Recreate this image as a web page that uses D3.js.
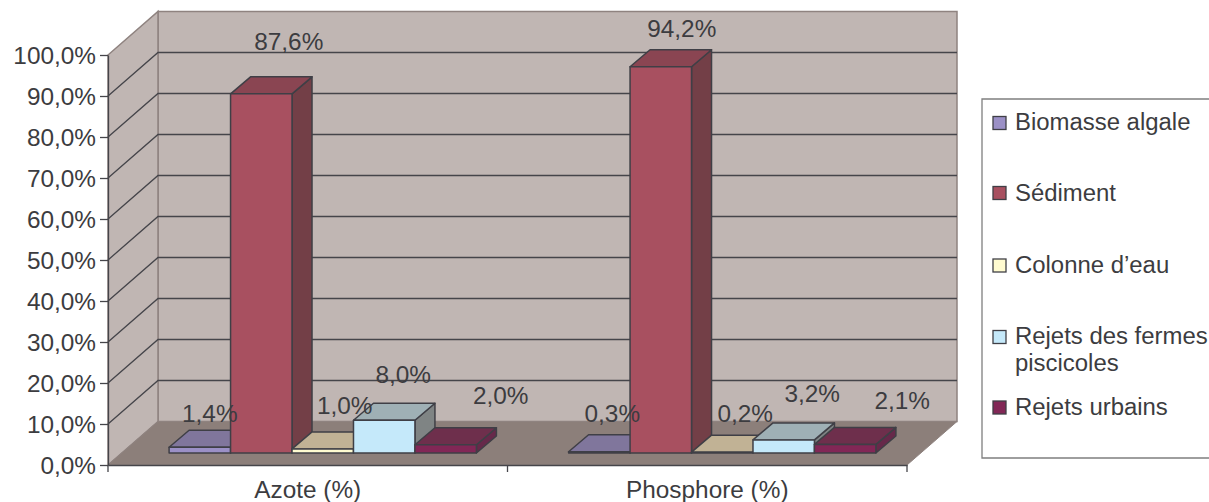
<!DOCTYPE html>
<html>
<head>
<meta charset="utf-8">
<script src="https://cdn.jsdelivr.net/npm/d3@7"></script>
<style>
  body { margin: 0; background: #fff; }
  svg { display: block; }
  text { font-family: "Liberation Sans", Arial, sans-serif; font-size: 23px; fill: #3c3c40; }
</style>
</head>
<body>
<div id="my_dataviz"></div>
<script>
// Values
const categories = ["Azote (%)", "Phosphore (%)"];
const seriesNames = ["Biomasse algale", "Sédiment", "Colonne d'eau", "Rejets des fermes", "Rejets urbains"];
const azote = [1.4, 87.6, 1.0, 8.0, 2.0];
const phosphore = [0.3, 94.2, 0.2, 3.2, 2.1];
const yTicks = [0, 10, 20, 30, 40, 50, 60, 70, 80, 90, 100];

// front / top / side colour per series
const frontColors = ["#9b90c6", "#a85060", "#fffbd0", "#c5e9fa", "#822756"];
const topColors = ["#80769c", "#8a4552", "#c1b295", "#9fb0b5", "#6e2f4c"];
const sideColors = ["#6b6285", "#733f47", "#a3967c", "#7f8484", "#66294a"];

// where excel left the data labels, relative to the top of each bar
const labelOffsets = [
  [[10, -25], [27.5, -44], [22, -35], [19, -37], [55, -41]],
  [[13, -30], [21, -30], [23, -30], [28.5, -38], [57, -35]]
];

const fmt = v => v.toFixed(1).replace(".", ",") + "%";
const stretch = 1.06; // the text in the reference is a bit wider than tall
const legendStretch = 1.04;

const width = 1209, height = 502;
const margin = {left: 108, right: 907, bottom: 465, top: 55};
const depth = {x: 50, y: -43.5};       // floor / side wall
const barShift = {x: 15, y: -12};      // bars sit inside the floor
const barDepth = {x: 20, y: -17};

const svg = d3.select("#my_dataviz")
  .append("svg")
    .attr("width", width)
    .attr("height", height);

const x0 = d3.scaleBand().domain(categories).range([margin.left, margin.right]);
const x1 = d3.scaleBand().domain(d3.range(seriesNames.length))
  .range([0, x0.bandwidth()])
  .paddingInner(0)
  .paddingOuter(0.75);
const y = d3.scaleLinear().domain([0, 100]).range([margin.bottom, margin.top]);

const poly = pts => pts.map(p => p.join(",")).join(" ");

// back wall
svg.append("polygon")
  .attr("points", poly([
    [margin.left + depth.x, y(100) + depth.y], [margin.right + depth.x, y(100) + depth.y],
    [margin.right + depth.x, y(0) + depth.y], [margin.left + depth.x, y(0) + depth.y]]))
  .attr("fill", "#c0b6b3").attr("stroke", "#8f8380").attr("stroke-width", 1.5);

// left wall
svg.append("polygon")
  .attr("points", poly([
    [margin.left, y(0)], [margin.left, y(100)],
    [margin.left + depth.x, y(100) + depth.y], [margin.left + depth.x, y(0) + depth.y]]))
  .attr("fill", "#c0b6b3").attr("stroke", "#8f8380").attr("stroke-width", 1.5);

// floor
svg.append("polygon")
  .attr("points", poly([
    [margin.left, y(0)], [margin.right, y(0)],
    [margin.right + depth.x, y(0) + depth.y], [margin.left + depth.x, y(0) + depth.y]]))
  .attr("fill", "#8c7f7a").attr("stroke", "#8f8380").attr("stroke-width", 1);

// gridlines, wall then back
const grid = svg.append("g").attr("fill", "none").attr("stroke", "#45454a").attr("stroke-width", 1.3);
yTicks.filter(d => d > 0 && d < 100).forEach(d => {
  grid.append("polyline").attr("points", poly([
    [margin.left, y(d)], [margin.left + depth.x, y(d) + depth.y], [margin.right + depth.x, y(d) + depth.y]]));
});

// bars, left to right so the later ones cover the earlier ones
const groups = [azote, phosphore];
const labels = [];
groups.forEach((values, g) => {
  values.forEach((v, i) => {
    const xa = x0(categories[g]) + x1(i) + barShift.x;
    const xb = xa + x1.bandwidth();
    const yb = y(0) + barShift.y;
    const yt = y(v) + barShift.y;
    const bar = svg.append("g")
      .attr("stroke", "#3f3f46").attr("stroke-width", 1.5).attr("stroke-linejoin", "round");
    bar.append("polygon")
      .attr("points", poly([[xb, yb], [xb, yt], [xb + barDepth.x, yt + barDepth.y], [xb + barDepth.x, yb + barDepth.y]]))
      .attr("fill", sideColors[i]);
    bar.append("polygon")
      .attr("points", poly([[xa, yt], [xb, yt], [xb + barDepth.x, yt + barDepth.y], [xa + barDepth.x, yt + barDepth.y]]))
      .attr("fill", topColors[i]);
    bar.append("rect")
      .attr("x", xa).attr("y", yt)
      .attr("width", xb - xa).attr("height", yb - yt)
      .attr("fill", frontColors[i]);
    labels.push({
      x: (xa + xb) / 2 + labelOffsets[g][i][0],
      y: yt + labelOffsets[g][i][1],
      text: fmt(v)
    });
  });
});

// data labels go over all the bars
svg.append("g").selectAll("text")
  .data(labels)
  .join("text")
    .attr("text-anchor", "middle")
    .attr("transform", d => `translate(${d.x},${d.y}) scale(${stretch},1)`)
    .text(d => d.text);

// Y axis
const yAxis = svg.append("g")
  .attr("transform", `translate(${margin.left},0)`)
  .call(d3.axisLeft(y).tickValues(yTicks).tickFormat(fmt).tickSize(8).tickSizeOuter(0));
yAxis.select(".domain").attr("stroke", "#45454a").attr("stroke-width", 1.3);
yAxis.selectAll(".tick line").attr("stroke", "#45454a").attr("stroke-width", 1.3);
yAxis.selectAll("text")
  .attr("x", -12 / stretch)
  .attr("dy", "0.36em")
  .attr("transform", `scale(${stretch},1)`)
  .style("font-size", "23px")
  .style("font-family", "Liberation Sans");

// X axis, labels in the middle of each band and ticks on the band edges
const xAxis = svg.append("g")
  .attr("transform", `translate(0,${margin.bottom})`)
  .call(d3.axisBottom(x0).tickSize(0));
xAxis.select(".domain").attr("stroke", "#45454a").attr("stroke-width", 1.5);
xAxis.selectAll("text")
  .attr("y", 33)
  .attr("dy", 0)
  .attr("transform", `scale(${stretch},1)`)
  .style("font-size", "23px")
  .style("font-family", "Liberation Sans");
const edges = [margin.left, margin.left + x0.bandwidth(), margin.right];
xAxis.selectAll(".edge")
  .data(edges)
  .join("line")
    .attr("class", "edge")
    .attr("x1", d => d).attr("x2", d => d)
    .attr("y1", 0).attr("y2", 7)
    .attr("stroke", "#45454a").attr("stroke-width", 1.3);

// Legend
const legendX = 982, legendTop = 99, legendBottom = 458;
svg.append("polyline")
  .attr("points", poly([[width, legendTop], [legendX, legendTop], [legendX, legendBottom], [width, legendBottom]]))
  .attr("fill", "#fff").attr("stroke", "#7f7f7f").attr("stroke-width", 1.3);

const legendRows = [
  {i: 0, cy: 123, lines: [["Biomasse algale", 130]]},
  {i: 1, cy: 193, lines: [["Sédiment", 201]]},
  {i: 2, cy: 265.5, lines: [["Colonne d’eau", 272.5]]},
  {i: 3, cy: 337, lines: [["Rejets des fermes", 344], ["piscicoles", 371]]},
  {i: 4, cy: 407.5, lines: [["Rejets urbains", 415]]}
];
legendRows.forEach(row => {
  svg.append("rect")
    .attr("x", 993).attr("y", row.cy - 6.5)
    .attr("width", 13).attr("height", 13)
    .attr("fill", frontColors[row.i])
    .attr("stroke", "#3f3f46").attr("stroke-width", 1.3);
  row.lines.forEach(([txt, by]) => {
    svg.append("text")
      .attr("transform", `translate(1015,${by}) scale(${legendStretch},1)`)
      .text(txt);
  });
});
</script>
</body>
</html>
